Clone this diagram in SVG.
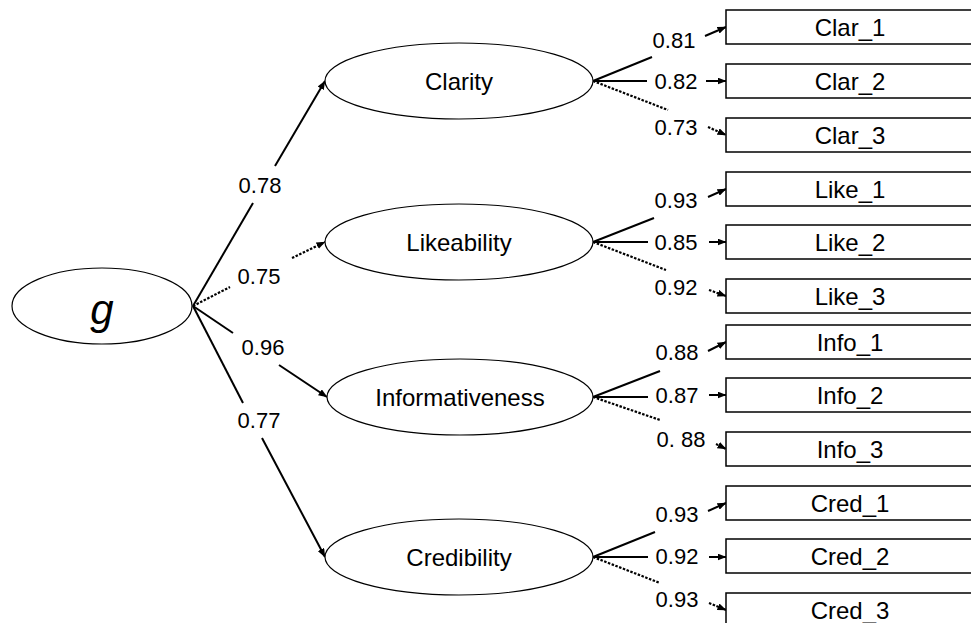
<svg xmlns="http://www.w3.org/2000/svg" width="971" height="623" viewBox="0 0 971 623">
<style>
text{font-family:"Liberation Sans",Arial,sans-serif;fill:#000;text-anchor:middle}
.lat{fill:#fff;stroke:#000;stroke-width:1.2}
.box{fill:#fff;stroke:#000;stroke-width:1.5}
.nl{font-size:24px}
.bl{font-size:24px}
.num{font-size:22px}
.s{stroke:#000;stroke-width:2;fill:none}
.d{stroke:#000;stroke-width:2.2;fill:none;stroke-dasharray:2.5 1.5}
.a{marker-end:url(#ah)}
</style>
<defs>
<marker id="ah" markerUnits="userSpaceOnUse" markerWidth="9" markerHeight="7" refX="8.5" refY="3.5" orient="auto">
<path d="M0,0 L9,3.5 L0,7 z" fill="#000"/>
</marker>
</defs>
<rect width="971" height="623" fill="#fff"/>

<g id="connectors">
<line class="s" x1="193" y1="306" x2="253" y2="203"/>
<line class="s a" x1="275" y1="166" x2="325" y2="81"/>
<line class="d" x1="193" y1="306" x2="230" y2="287"/>
<line class="d a" x1="292" y1="258" x2="325" y2="242"/>
<line class="s" x1="193" y1="306" x2="233" y2="333"/>
<line class="s a" x1="279" y1="365" x2="327" y2="397"/>
<line class="s" x1="193" y1="306" x2="243" y2="403"/>
<line class="s a" x1="262" y1="438" x2="325" y2="557"/>
<line class="s" x1="593" y1="81" x2="652" y2="57"/>
<line class="s a" x1="705" y1="36" x2="726" y2="27"/>
<line class="s" x1="593" y1="81" x2="647" y2="81"/>
<line class="s a" x1="706" y1="81" x2="726" y2="81"/>
<line class="d" x1="593" y1="81" x2="668" y2="110"/>
<line class="d a" x1="708" y1="127" x2="726" y2="135"/>
<line class="s" x1="593" y1="242" x2="654" y2="218"/>
<line class="s a" x1="708" y1="197" x2="726" y2="189"/>
<line class="s" x1="593" y1="242" x2="648" y2="242"/>
<line class="s a" x1="709" y1="242" x2="726" y2="242"/>
<line class="d" x1="593" y1="242" x2="666" y2="270"/>
<line class="d a" x1="709" y1="290" x2="726" y2="296"/>
<line class="s" x1="593" y1="397" x2="660" y2="371"/>
<line class="s a" x1="708" y1="351" x2="726" y2="342"/>
<line class="s" x1="593" y1="397" x2="648" y2="397"/>
<line class="s a" x1="709" y1="395" x2="726" y2="395"/>
<line class="d" x1="593" y1="397" x2="660" y2="420"/>
<line class="d a" x1="716" y1="444" x2="726" y2="449"/>
<line class="s" x1="593" y1="557" x2="655" y2="532"/>
<line class="s a" x1="708" y1="511" x2="726" y2="503"/>
<line class="s" x1="593" y1="557" x2="648" y2="557"/>
<line class="s a" x1="709" y1="557" x2="726" y2="557"/>
<line class="d" x1="593" y1="557" x2="660" y2="583"/>
<line class="d a" x1="709" y1="603" x2="726" y2="610"/>

<g id="labels">
<text class="num" x="260" y="193">0.78</text>
<text class="num" x="259" y="284">0.75</text>
<text class="num" x="263" y="355">0.96</text>
<text class="num" x="259" y="428">0.77</text>
<text class="num" x="674" y="48">0.81</text>
<text class="num" x="676" y="89">0.82</text>
<text class="num" x="676" y="135">0.73</text>
<text class="num" x="676" y="208">0.93</text>
<text class="num" x="676" y="250">0.85</text>
<text class="num" x="676" y="295">0.92</text>
<text class="num" x="677" y="360">0.88</text>
<text class="num" x="677" y="403">0.87</text>
<text class="num" x="681" y="447">0. 88</text>
<text class="num" x="677" y="522">0.93</text>
<text class="num" x="677" y="564">0.92</text>
<text class="num" x="677" y="607">0.93</text>
</g>
</g>

<g id="g">
<ellipse class="lat" cx="102" cy="306" rx="90" ry="38"/>
<text x="102" y="324" style="font-size:42px;font-style:italic">g</text>
</g>
<g id="clarity">
<ellipse class="lat" cx="459" cy="81" rx="134" ry="38"/>
<text class="nl" x="459" y="90">Clarity</text>
</g>
<g id="likeability">
<ellipse class="lat" cx="459" cy="242" rx="134" ry="38"/>
<text class="nl" x="459" y="251">Likeability</text>
</g>
<g id="informativeness">
<ellipse class="lat" cx="460" cy="397" rx="133" ry="38"/>
<text class="nl" x="460" y="406">Informativeness</text>
</g>
<g id="credibility">
<ellipse class="lat" cx="459" cy="557" rx="134" ry="38"/>
<text class="nl" x="459" y="566">Credibility</text>
</g>

<g id="clar_1"><rect class="box" x="726" y="10" width="248" height="34"/><text class="bl" x="850" y="36">Clar_1</text></g>
<g id="clar_2"><rect class="box" x="726" y="64" width="248" height="34"/><text class="bl" x="850" y="90">Clar_2</text></g>
<g id="clar_3"><rect class="box" x="726" y="118" width="248" height="34"/><text class="bl" x="850" y="144">Clar_3</text></g>
<g id="like_1"><rect class="box" x="726" y="172" width="248" height="34"/><text class="bl" x="850" y="198">Like_1</text></g>
<g id="like_2"><rect class="box" x="726" y="225" width="248" height="34"/><text class="bl" x="850" y="251">Like_2</text></g>
<g id="like_3"><rect class="box" x="726" y="279" width="248" height="34"/><text class="bl" x="850" y="305">Like_3</text></g>
<g id="info_1"><rect class="box" x="726" y="325" width="248" height="34"/><text class="bl" x="850" y="351">Info_1</text></g>
<g id="info_2"><rect class="box" x="726" y="378" width="248" height="34"/><text class="bl" x="850" y="404">Info_2</text></g>
<g id="info_3"><rect class="box" x="726" y="432" width="248" height="34"/><text class="bl" x="850" y="458">Info_3</text></g>
<g id="cred_1"><rect class="box" x="726" y="486" width="248" height="34"/><text class="bl" x="850" y="512">Cred_1</text></g>
<g id="cred_2"><rect class="box" x="726" y="539" width="248" height="34"/><text class="bl" x="850" y="565">Cred_2</text></g>
<g id="cred_3"><rect class="box" x="726" y="593" width="248" height="34"/><text class="bl" x="850" y="619">Cred_3</text></g>
</svg>
